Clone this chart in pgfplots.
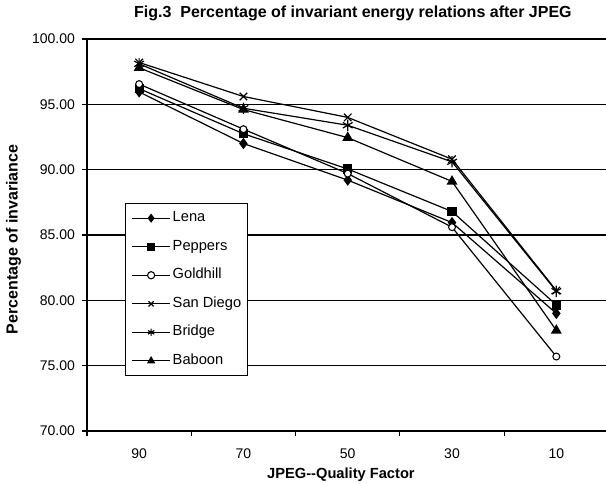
\documentclass[border=0pt]{standalone}
\usepackage{pgfplots}
\pgfplotsset{compat=1.18}
\usepackage{fontspec}
\setmainfont{Liberation Sans}
\begin{document}
\begin{tikzpicture}
\begin{axis}[
  at={(0pt,0pt)}, anchor=south west,
  scale only axis,
  width=391.1pt, height=294pt,
  xmin=-0.5, xmax=4.5,
  ymin=70, ymax=100,
  ytick={70,75,...,100},
  xtick={-0.5,0.5,1.5,2.5,3.5,4.5},
  xticklabels={,,,,,},
  extra x ticks={0,1,2,3,4},
  extra x tick labels={90,70,50,30,10},
  extra x tick style={major tick length=0pt, tick label style={yshift=-9.5pt}},
  tick align=outside,
  major tick length=4pt,
  tick pos=left,
  ymajorgrids,
  grid style={black, line width=0.8pt},
  axis line style={black, line width=0.8pt},
  every tick/.style={black, line width=0.8pt},
  /pgf/number format/assume math mode=true,
  yticklabel style={xshift=-1.5pt, /pgf/number format/.cd, fixed, fixed zerofill, precision=2, /tikz/.cd},
  tick label style={font=\fontsize{10.5}{12}\selectfont},
  xlabel={JPEG{-}{-}Quality Factor},
  ylabel={Percentage of invariance},
  xlabel style={font=\bfseries\fontsize{11}{13}\selectfont, at={(axis description cs:0.487,-0.1224)}, anchor=base},
  ylabel style={font=\bfseries\fontsize{12}{14}\selectfont, at={(axis description cs:-0.1329,0.4885)}, anchor=base},
  title={Fig.3\ \ Percentage of invariant energy relations after JPEG},
  title style={font=\bfseries\fontsize{12}{14}\selectfont, at={(axis description cs:0.510,1.0357)}, anchor=base},
  legend style={at={(axis description cs:0.0729,0.5816)}, anchor=north west,
    draw=black, line width=0.75pt, fill=white,
    inner xsep=4.5pt, inner ysep=5.75pt,
    row sep=10.9pt, column sep=1.5pt,
    font=\fontsize{11}{12}\selectfont,
    nodes={inner sep=0pt, text height=8pt, text depth=2.5pt}},
  legend cell align=left,
  legend image code/.code={\draw[mark repeat=2,mark phase=2,#1] plot coordinates {(0pt,0pt) (14.25pt,0pt) (28.5pt,0pt)};},
  legend image post style={mark size=2.7pt},
  every axis plot/.append style={black, line width=0.9pt, mark options={solid}},
]
\addplot[mark=diamond*, mark size=3.5pt, mark options={fill=black}] coordinates {(0,95.95) (1,92.0) (2,89.2) (3,85.95) (4,79.0)};
\addlegendentry{Lena}
\addplot[mark=square*, mark size=3pt, mark options={fill=black}] coordinates {(0,96.2) (1,92.75) (2,90.05) (3,86.8) (4,79.65)};
\addlegendentry{Peppers}
\addplot[mark=*, mark size=2.6pt, mark options={fill=white, line width=0.8pt}] coordinates {(0,96.55) (1,93.1) (2,89.7) (3,85.6) (4,75.7)};
\addlegendentry{Goldhill}
\addplot[mark=x, mark size=4pt] coordinates {(0,98.2) (1,95.6) (2,94.0) (3,90.8) (4,80.75)};
\addlegendentry{San Diego}
\addplot[mark=asterisk, mark size=4.2pt] coordinates {(0,98.1) (1,94.7) (2,93.4) (3,90.6) (4,80.7)};
\addlegendentry{Bridge}
\addplot[mark=triangle*, mark size=3.8pt, mark options={fill=black}] coordinates {(0,97.8) (1,94.6) (2,92.45) (3,89.1) (4,77.7)};
\addlegendentry{Baboon}
\end{axis}
\pgfresetboundingbox
\useasboundingbox (-65.25pt,-39pt) rectangle (389.25pt,323.25pt);
\end{tikzpicture}
\end{document}
